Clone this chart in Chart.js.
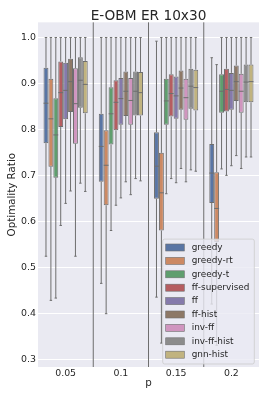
<!DOCTYPE html>
<html>
<head>
<meta charset="utf-8">
<title>E-OBM ER 10x30</title>
<script src="https://cdn.jsdelivr.net/npm/chart.js@4.4.1/dist/chart.umd.min.js"></script>
<style>
    html, body { margin: 0; padding: 0; background: #fff; }
    #wrap { width: 270px; height: 400px; }
</style>
</head>
<body>
<div id="wrap"><canvas id="chart" width="270" height="400"></canvas></div>
<script>
const pLabels = ['0.05', '0.1', '0.15', '0.2'];
const methods = ['greedy', 'greedy-rt', 'greedy-t', 'ff-supervised', 'ff', 'ff-hist', 'inv-ff', 'inv-ff-hist', 'gnn-hist'];
const colors = ['#5975a4', '#cc8963', '#5f9e6e', '#b55d60', '#857aab', '#8d7866', '#d095bf', '#8c8c8c', '#c1b37f'];

// one row per method, one value per p
const whiskerHigh = [
    [1.0, 1.0, 0.992, 0.956],
    [1.0, 1.0, 1.0, 0.941],
    [1.0, 1.0, 1.0, 1.0],
    [1.0, 1.0, 1.0, 1.0],
    [1.0, 1.0, 1.0, 1.0],
    [1.0, 1.0, 1.0, 1.0],
    [1.0, 1.0, 1.0, 1.0],
    [1.0, 1.0, 1.0, 1.0],
    [1.0, 1.0, 1.0, 1.0]
];
const q3 = [
    [0.934, 0.834, 0.794, 0.768],
    [0.910, 0.798, 0.749, 0.707],
    [0.868, 0.892, 0.910, 0.920],
    [0.948, 0.907, 0.920, 0.932],
    [0.945, 0.912, 0.915, 0.923],
    [0.954, 0.926, 0.928, 0.939],
    [0.933, 0.912, 0.910, 0.921],
    [0.957, 0.926, 0.932, 0.941],
    [0.949, 0.925, 0.930, 0.941]
];
const medians = [
    [0.857, 0.763, 0.720, 0.705],
    [0.823, 0.722, 0.662, 0.628],
    [0.788, 0.834, 0.862, 0.883],
    [0.880, 0.859, 0.878, 0.887],
    [0.885, 0.867, 0.873, 0.885],
    [0.904, 0.883, 0.890, 0.904],
    [0.856, 0.863, 0.869, 0.883],
    [0.907, 0.883, 0.894, 0.903],
    [0.898, 0.880, 0.891, 0.904]
];
const q1 = [
    [0.770, 0.686, 0.649, 0.640],
    [0.719, 0.635, 0.580, 0.555],
    [0.695, 0.767, 0.810, 0.836],
    [0.805, 0.798, 0.828, 0.839],
    [0.822, 0.810, 0.823, 0.843],
    [0.838, 0.829, 0.843, 0.862],
    [0.769, 0.810, 0.821, 0.836],
    [0.847, 0.830, 0.845, 0.859],
    [0.835, 0.830, 0.841, 0.859]
];
const whiskerLow = [
    [0.524, 0.465, 0.435, 0.420],
    [0.428, 0.399, 0.335, 0.330],
    [0.433, 0.580, 0.660, 0.714],
    [0.591, 0.635, 0.693, 0.700],
    [0.639, 0.651, 0.684, 0.721],
    [0.666, 0.686, 0.715, 0.743],
    [0.524, 0.658, 0.686, 0.715],
    [0.683, 0.693, 0.712, 0.740],
    [0.665, 0.688, 0.709, 0.740]
];
const yTicks = [0.3, 0.4, 0.5, 0.6, 0.7, 0.8, 0.9, 1.0];

const FONT = 'DejaVu Sans';
const TEXT = '#262626';
const LINE = '#6e6e6e';

// axes background + separators between p groups
const backdrop = {
    id: 'backdrop',
    beforeDraw(chart) {
        const { ctx, chartArea: a } = chart;
        ctx.save();
        ctx.fillStyle = '#eaeaf2';
        ctx.fillRect(a.left, a.top, a.right - a.left, a.bottom - a.top);
        ctx.restore();
    },
    beforeDatasetsDraw(chart) {
        const { ctx, chartArea: a, scales: { x } } = chart;
        ctx.save();
        ctx.strokeStyle = LINE;
        ctx.lineWidth = 1;
        for (let i = 0; i < pLabels.length - 1; i++) {
            const px = (x.getPixelForValue(i) + x.getPixelForValue(i + 1)) / 2;
            ctx.beginPath();
            ctx.moveTo(px, a.top);
            ctx.lineTo(px, a.bottom);
            ctx.stroke();
        }
        ctx.restore();
    }
};

// whiskers, caps and median lines on top of the floating bars
const boxParts = {
    id: 'boxParts',
    afterDatasetsDraw(chart) {
        const { ctx, scales: { y } } = chart;
        ctx.save();
        ctx.strokeStyle = LINE;
        ctx.lineWidth = 1;
        chart.data.datasets.forEach((ds, i) => {
            const meta = chart.getDatasetMeta(i);
            meta.data.forEach((bar, j) => {
                const cx = bar.x;
                const half = bar.width / 2;
                const hi = y.getPixelForValue(whiskerHigh[i][j]);
                const lo = y.getPixelForValue(whiskerLow[i][j]);
                const top = y.getPixelForValue(q3[i][j]);
                const bot = y.getPixelForValue(q1[i][j]);
                const med = y.getPixelForValue(medians[i][j]);
                ctx.beginPath();
                ctx.moveTo(cx, top); ctx.lineTo(cx, hi);
                ctx.moveTo(cx, bot); ctx.lineTo(cx, lo);
                ctx.moveTo(cx - half / 2, hi); ctx.lineTo(cx + half / 2, hi);
                ctx.moveTo(cx - half / 2, lo); ctx.lineTo(cx + half / 2, lo);
                ctx.moveTo(cx - half, med); ctx.lineTo(cx + half, med);
                ctx.stroke();
            });
        });
        ctx.restore();
    }
};

// matplotlib-like legend box in the lower right of the axes
const boxLegend = {
    id: 'boxLegend',
    afterDraw(chart) {
        const { ctx, chartArea: a } = chart;
        const w = 91.6, rowH = 13.4;
        const h = 8.4 + rowH * (methods.length - 1) + 9.3;
        const lx = a.right - 4.7 - w;
        const ly = a.bottom - 3 - h;
        ctx.save();
        ctx.fillStyle = 'rgba(234,234,242,0.8)';
        ctx.strokeStyle = 'rgba(204,204,204,0.8)';
        ctx.lineWidth = 1;
        ctx.beginPath();
        ctx.roundRect(lx, ly, w, h, 2);
        ctx.fill();
        ctx.stroke();
        ctx.font = '8.9px "' + FONT + '"';
        ctx.textBaseline = 'middle';
        chart.data.datasets.forEach((ds, i) => {
            const cy = ly + 8.4 + i * rowH;
            ctx.fillStyle = ds.backgroundColor;
            ctx.fillRect(lx + 3, cy - 3.5, 18.6, 7);
            ctx.strokeStyle = LINE;
            ctx.lineWidth = 0.6;
            ctx.strokeRect(lx + 3, cy - 3.5, 18.6, 7);
            ctx.fillStyle = TEXT;
            ctx.fillText(ds.label, lx + 29, cy);
        });
        ctx.restore();
    }
};

const datasets = methods.map((name, i) => ({
    label: name,
    data: pLabels.map((_, j) => [q1[i][j], q3[i][j]]),
    backgroundColor: colors[i],
    borderColor: LINE,
    borderWidth: 1,
    borderSkipped: false,
    categoryPercentage: 0.8,
    barPercentage: 1.0
}));

new Chart(document.getElementById('chart'), {
    type: 'bar',
    data: { labels: pLabels, datasets: datasets },
    options: {
        responsive: false,
        animation: false,
        devicePixelRatio: 1,
        layout: { padding: { left: 0, right: 11, top: 0, bottom: 0 } },
        plugins: {
            legend: { display: false },
            tooltip: { enabled: false },
            title: {
                display: true,
                text: 'E-OBM ER 10x30',
                fullSize: false,
                color: TEXT,
                font: { family: FONT, size: 13.7, weight: 'normal', lineHeight: 0.9 },
                padding: { top: 10, bottom: 0 }
            }
        },
        scales: {
            x: {
                type: 'category',
                grid: { display: false, drawTicks: false },
                border: { display: false },
                ticks: { color: TEXT, font: { family: FONT, size: 9.4 }, padding: 1 },
                title: {
                    display: true, text: 'p', color: TEXT,
                    font: { family: FONT, size: 10.3 },
                    padding: { top: 0, bottom: 10 }
                },
                afterFit(scale) { scale.height = 33; }
            },
            y: {
                min: 0.283,
                max: 1.033,
                afterBuildTicks(scale) { scale.ticks = yTicks.map(v => ({ value: v })); },
                grid: { color: '#ffffff', lineWidth: 1, drawTicks: false },
                border: { display: false },
                ticks: {
                    color: TEXT, font: { family: FONT, size: 9.4 }, padding: 2,
                    callback: v => v.toFixed(1)
                },
                title: {
                    display: true, text: 'Optimality Ratio', color: TEXT,
                    font: { family: FONT, size: 10.3 },
                    padding: { top: 6, bottom: 0 }
                },
                afterFit(scale) { scale.width = 38; }
            }
        }
    },
    plugins: [backdrop, boxParts, boxLegend]
});
</script>
</body>
</html>
